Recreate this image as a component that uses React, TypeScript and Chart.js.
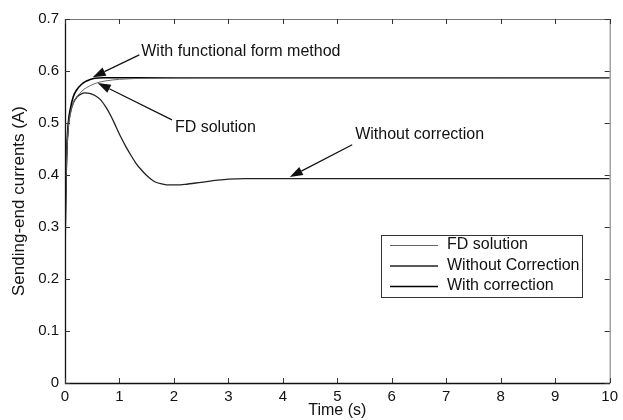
import { useEffect, useRef } from "react";
import { Chart, registerables } from "chart.js";

Chart.register(...registerables);

// Sending-end current transients (time in s, current in A)
const fdTime = [0, 0.01, 0.03, 0.06, 0.1, 0.15, 0.2, 0.27, 0.35, 0.45, 0.58, 0.75, 1, 1.5, 2.5, 4, 6, 8, 10];
const fdCurrent = [0.24, 0.33, 0.43, 0.49, 0.518, 0.538, 0.548, 0.557, 0.565, 0.571, 0.577, 0.581, 0.584, 0.586, 0.587, 0.587, 0.587, 0.587, 0.587];

const withoutTime = [0, 0.01, 0.03, 0.06, 0.1, 0.15, 0.22, 0.3, 0.36, 0.45, 0.55, 0.65, 0.76, 0.85, 0.94, 1.03, 1.12, 1.21, 1.3, 1.4, 1.49, 1.58, 1.67, 1.78, 1.91, 2.05, 2.2, 2.5, 2.8, 3.0, 3.3, 3.6, 4, 6, 8, 10];
const withoutCurrent = [0.24, 0.33, 0.43, 0.49, 0.52, 0.538, 0.55, 0.556, 0.558, 0.557, 0.553, 0.545, 0.529, 0.512, 0.492, 0.472, 0.454, 0.438, 0.423, 0.41, 0.4, 0.392, 0.386, 0.383, 0.381, 0.381, 0.382, 0.386, 0.39, 0.392, 0.393, 0.393, 0.393, 0.393, 0.393, 0.393];

const withTime = [0, 0.01, 0.03, 0.06, 0.1, 0.15, 0.21, 0.3, 0.38, 0.45, 0.55, 0.7, 1, 2, 4, 6, 8, 10];
const withCurrent = [0.24, 0.34, 0.44, 0.5, 0.528, 0.55, 0.563, 0.574, 0.58, 0.583, 0.586, 0.587, 0.587, 0.587, 0.587, 0.587, 0.587, 0.587];

const seriesLabels = ["FD solution", "Without Correction", "With correction"];

const xTicks = [0, 1, 2, 3, 4, 5, 6, 7, 8, 9, 10];
const yTicks = [0, 0.1, 0.2, 0.3, 0.4, 0.5, 0.6, 0.7];

// Callouts: text anchor and arrow (tail -> head), in data units
const callouts = [
  { text: "With functional form method", tx: 1.4, ty: 0.637, x0: 1.364, y0: 0.631, x1: 0.509, y1: 0.588 },
  { text: "FD solution", tx: 2.018, ty: 0.492, x0: 1.964, y0: 0.506, x1: 0.6, y1: 0.577 },
  { text: "Without correction", tx: 5.327, ty: 0.477, x0: 5.273, y0: 0.458, x1: 4.127, y1: 0.396 },
];

const FONT = "'Liberation Sans', Arial, Helvetica, sans-serif";

const toPoints = (xs: number[], ys: number[]) => xs.map((x, i) => ({ x, y: ys[i] }));

const framePlugin = {
  id: "frame",
  afterDatasetsDraw(chart: any) {
    const { ctx, chartArea: a, scales } = chart;
    const xs = scales.x;
    const ys = scales.y;
    ctx.save();

    // frame
    ctx.lineWidth = 1;
    ctx.strokeStyle = "#777";
    ctx.beginPath();
    ctx.moveTo(a.left, a.top + 0.5);
    ctx.lineTo(a.right + 0.5, a.top + 0.5);
    ctx.lineTo(a.right + 0.5, a.bottom);
    ctx.stroke();
    ctx.strokeStyle = "#111";
    ctx.lineWidth = 1.3;
    ctx.beginPath();
    ctx.moveTo(a.left + 0.5, a.top);
    ctx.lineTo(a.left + 0.5, a.bottom + 0.5);
    ctx.lineTo(a.right + 0.5, a.bottom + 0.5);
    ctx.stroke();

    // inward ticks on all four sides
    const tl = 5;
    ctx.lineWidth = 1;
    ctx.strokeStyle = "#333";
    ctx.beginPath();
    xTicks.forEach((v) => {
      const px = Math.round(xs.getPixelForValue(v)) + 0.5;
      ctx.moveTo(px, a.bottom);
      ctx.lineTo(px, a.bottom - tl);
      ctx.moveTo(px, a.top);
      ctx.lineTo(px, a.top + tl);
    });
    yTicks.forEach((v) => {
      const py = Math.round(ys.getPixelForValue(v)) + 0.5;
      ctx.moveTo(a.left, py);
      ctx.lineTo(a.left + tl, py);
      ctx.moveTo(a.right, py);
      ctx.lineTo(a.right - tl, py);
    });
    ctx.stroke();

    // callouts
    ctx.fillStyle = "#111";
    ctx.strokeStyle = "#111";
    ctx.font = `16px ${FONT}`;
    ctx.textAlign = "left";
    ctx.textBaseline = "middle";
    callouts.forEach((c) => {
      ctx.fillText(c.text, xs.getPixelForValue(c.tx), ys.getPixelForValue(c.ty));
      const x0 = xs.getPixelForValue(c.x0);
      const y0 = ys.getPixelForValue(c.y0);
      const x1 = xs.getPixelForValue(c.x1);
      const y1 = ys.getPixelForValue(c.y1);
      const ang = Math.atan2(y1 - y0, x1 - x0);
      const hl = 13;
      const hw = 4.5;
      const bx = x1 - hl * Math.cos(ang);
      const by = y1 - hl * Math.sin(ang);
      ctx.lineWidth = 1.2;
      ctx.beginPath();
      ctx.moveTo(x0, y0);
      ctx.lineTo(bx, by);
      ctx.stroke();
      ctx.beginPath();
      ctx.moveTo(x1, y1);
      ctx.lineTo(bx + hw * Math.sin(ang), by - hw * Math.cos(ang));
      ctx.lineTo(bx - hw * Math.sin(ang), by + hw * Math.cos(ang));
      ctx.closePath();
      ctx.fill();
    });

    // legend box
    const lx = 381;
    const ly = 235;
    const lw = 201;
    const lh = 62;
    ctx.fillStyle = "#fff";
    ctx.fillRect(lx, ly, lw, lh);
    ctx.strokeStyle = "#333";
    ctx.lineWidth = 1;
    ctx.strokeRect(lx + 0.5, ly + 0.5, lw, lh);
    chart.data.datasets.forEach((ds: any, i: number) => {
      const ry = ly + 10 + i * 20.5;
      ctx.strokeStyle = ds.borderColor;
      ctx.lineWidth = ds.borderWidth;
      ctx.beginPath();
      ctx.moveTo(lx + 9, ry + 0.5);
      ctx.lineTo(lx + 57, ry + 0.5);
      ctx.stroke();
      ctx.fillStyle = "#111";
      ctx.fillText(ds.label, lx + 66, ry);
    });

    ctx.restore();
  },
};

export default function App() {
  const canvasRef = useRef<HTMLCanvasElement | null>(null);

  useEffect(() => {
    const canvas = canvasRef.current;
    if (!canvas) return;
    const chart = new Chart(canvas, {
      type: "line",
      data: {
        datasets: [
          {
            label: seriesLabels[0],
            data: toPoints(fdTime, fdCurrent),
            borderColor: "#666",
            borderWidth: 1,
            pointRadius: 0,
            cubicInterpolationMode: "monotone",
          },
          {
            label: seriesLabels[1],
            data: toPoints(withoutTime, withoutCurrent),
            borderColor: "#222",
            borderWidth: 1.3,
            pointRadius: 0,
            cubicInterpolationMode: "monotone",
          },
          {
            label: seriesLabels[2],
            data: toPoints(withTime, withCurrent),
            borderColor: "#000",
            borderWidth: 1.6,
            pointRadius: 0,
            cubicInterpolationMode: "monotone",
          },
        ],
      },
      options: {
        animation: false,
        responsive: false,
        layout: { padding: { top: 19, right: 8, left: 0, bottom: 0 } },
        plugins: { legend: { display: false }, tooltip: { enabled: false } },
        scales: {
          x: {
            type: "linear",
            min: 0,
            max: 10,
            grid: { display: false, drawTicks: false },
            border: { display: false },
            afterBuildTicks: (s: any) => {
              s.ticks = xTicks.map((v) => ({ value: v }));
            },
            afterFit: (s: any) => {
              s.height = 37;
            },
            ticks: {
              color: "#111",
              padding: 5,
              maxRotation: 0,
              font: { family: FONT, size: 15 },
              callback: (v: any) => String(v),
            },
            title: {
              display: true,
              text: "Time (s)",
              color: "#111",
              padding: { top: 0, bottom: 0 },
              font: { family: FONT, size: 16 },
            },
          },
          y: {
            type: "linear",
            min: 0,
            max: 0.7,
            grid: { display: false, drawTicks: false },
            border: { display: false },
            afterBuildTicks: (s: any) => {
              s.ticks = yTicks.map((v) => ({ value: v }));
            },
            afterFit: (s: any) => {
              s.width = 65;
            },
            ticks: {
              color: "#111",
              padding: 6,
              font: { family: FONT, size: 15 },
              callback: (v: any) => (Number(v) === 0 ? "0" : Number(v).toFixed(1)),
            },
            title: {
              display: true,
              text: "Sending-end currents (A)",
              color: "#111",
              padding: { top: 9, bottom: 0 },
              font: { family: FONT, size: 17 },
            },
          },
        },
      },
      plugins: [framePlugin],
    });
    return () => chart.destroy();
  }, []);

  return (
    <div style={{ position: "absolute", left: 0, top: 0, width: 623, height: 420, background: "#fff" }}>
      <canvas ref={canvasRef} width={623} height={420} />
    </div>
  );
}
